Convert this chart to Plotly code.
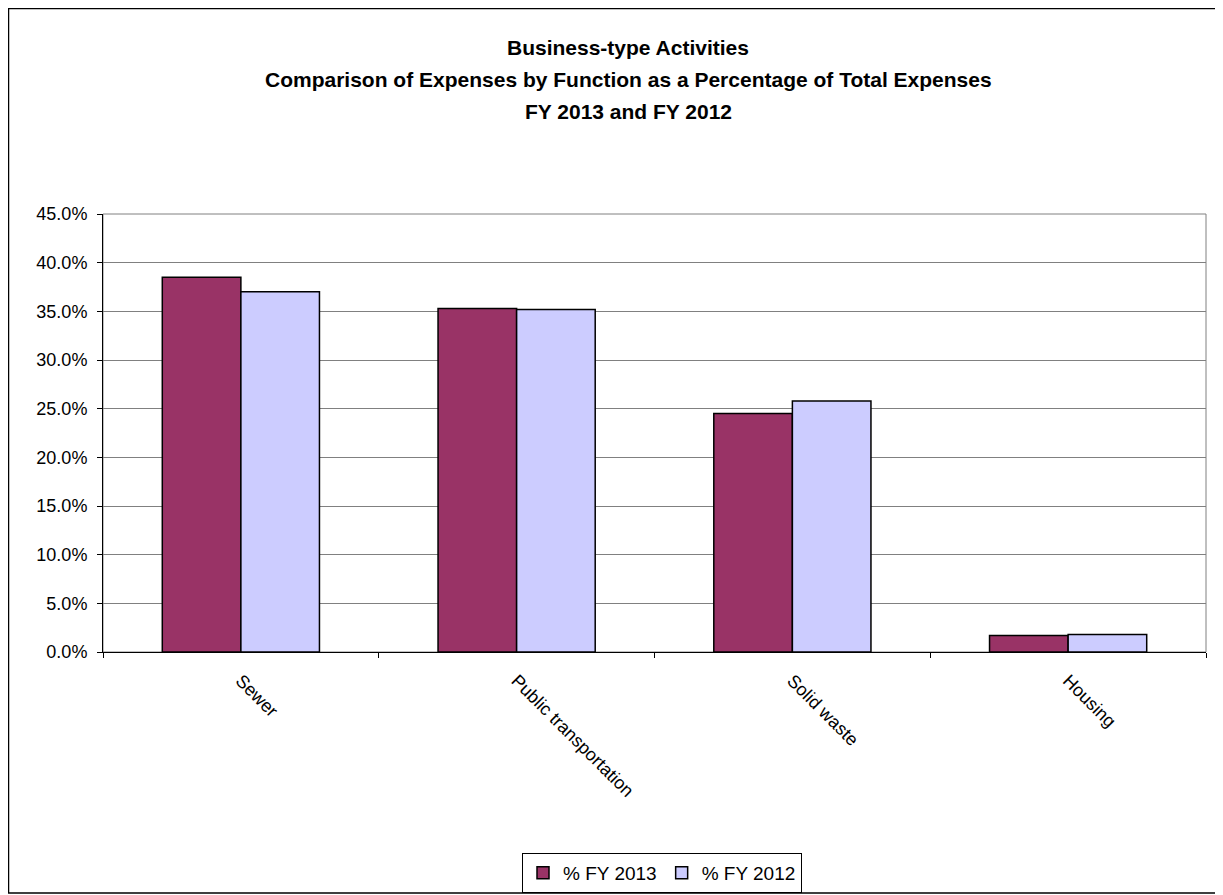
import plotly.graph_objects as go

categories = ["Sewer", "Public transportation", "Solid waste", "Housing"]
fy2013 = [0.385, 0.353, 0.245, 0.017]
fy2012 = [0.370, 0.352, 0.258, 0.018]
title_lines = [
    "Business-type Activities",
    "Comparison of Expenses by Function as a Percentage of Total Expenses",
    "FY 2013 and FY 2012",
]
y_ticks = [i * 0.05 for i in range(10)]

# page has an 8px body margin; work in figure coordinates
OFF = 8
W, H = 1223 - OFF, 895 - OFF
L, T = 103 - OFF, 214 - OFF
R = W - (1206 - OFF)
B = H - (652 - OFF)
pw, ph = W - L - R, H - T - B

def px(x):  # page x -> paper
    return (x - OFF - L) / pw

def py(y):  # page y -> paper
    return (H - B - (y - OFF)) / ph

fig = go.Figure()
fig.add_trace(go.Bar(name="% FY 2013", x=categories, y=fy2013,
                     marker=dict(color="#993366", line=dict(color="black", width=1.5))))
fig.add_trace(go.Bar(name="% FY 2012", x=categories, y=fy2012,
                     marker=dict(color="#CCCCFF", line=dict(color="black", width=1.5))))

font = "Liberation Sans, Arial, sans-serif"
fig.update_layout(
    width=W, height=H,
    margin=dict(l=L, r=R, t=T, b=B, autoexpand=False),
    paper_bgcolor="white", plot_bgcolor="white",
    barmode="group", bargap=0.43, bargroupgap=0,
    font=dict(family=font, size=18, color="black"),
    showlegend=True,
    legend=dict(orientation="h", x=px(662), xanchor="center", y=py(873), yanchor="middle",
                bordercolor="black", borderwidth=1, font=dict(size=19),
                itemwidth=30, traceorder="normal", tracegroupgap=0),
    xaxis=dict(tickangle=45, showline=True, linecolor="black", linewidth=1,
               ticks="outside", tickson="boundaries", ticklen=5, tickcolor="black",
               showgrid=False, tickfont=dict(size=18), ticklabelstandoff=10),
    yaxis=dict(range=[0, 0.45], tickvals=y_ticks, tickformat=".1%",
               showline=True, linecolor="black", linewidth=1,
               ticks="outside", ticklen=5, tickcolor="black",
               showgrid=True, gridcolor="#808080", gridwidth=1,
               tickfont=dict(size=18), zeroline=False, ticklabelstandoff=6),
)

for ypos, txt in zip([47, 79, 111], title_lines):
    fig.add_annotation(text="<b>%s</b>" % txt, x=px(628), y=py(ypos), xref="paper", yref="paper",
                       showarrow=False, xanchor="center", yanchor="middle",
                       font=dict(size=21, family=font))

# plot area border
fig.add_shape(type="rect", xref="paper", yref="paper", x0=0, x1=1, y0=0, y1=1,
              line=dict(color="#808080", width=1), layer="below")
# outer chart border
fig.add_shape(type="rect", xref="paper", yref="paper", x0=px(8.5), x1=px(1221), y0=py(893), y1=py(8.5),
              line=dict(color="black", width=1.5))

fig.write_html("out.html")
